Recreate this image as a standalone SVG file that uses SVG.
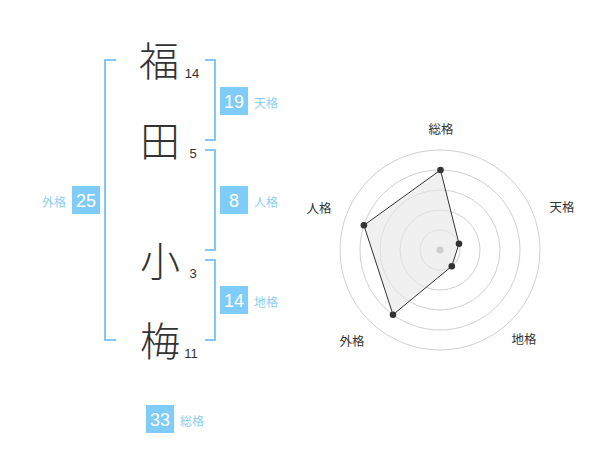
<svg xmlns="http://www.w3.org/2000/svg" width="600" height="470" viewBox="0 0 600 470">
<style>
.ch{font-family:"Noto Sans CJK JP","Noto Sans",sans-serif;font-size:40px;font-weight:300;fill:#333;text-anchor:middle}
.num{font-family:"Liberation Sans",Arial,sans-serif;font-size:13px;fill:#333;text-anchor:middle}
.br{fill:none;stroke:#80c9f2;stroke-width:2}
.box{fill:#80ccf8}
.bn{font-family:"Liberation Sans",Arial,sans-serif;font-size:18px;fill:#fff;text-anchor:middle}
.lb{font-family:"Noto Sans CJK JP",sans-serif;font-size:12px;fill:#8ccff5}
.rl{font-family:"Noto Sans CJK JP",sans-serif;font-size:12.5px;fill:#333;text-anchor:middle}
.ring{fill:none;stroke:#d0d0d0;stroke-width:1}
.pt{fill:#333}
</style>
<rect width="600" height="470" fill="#fff"/>
<g id="name">
<g id="c1"><text class="ch" x="159" y="76">福</text><text class="num" x="192" y="78">14</text></g>
<g id="c2"><text class="ch" x="160" y="156">田</text><text class="num" x="193" y="158">5</text></g>
<g id="c3"><text class="ch" x="160" y="276">小</text><text class="num" x="193" y="278">3</text></g>
<g id="c4"><text class="ch" x="160" y="356">梅</text><text class="num" x="191" y="358">11</text></g>
</g>
<g id="brackets">
<polyline class="br" points="116,60 105,60 105,340 116,340"/>
<polyline class="br" points="205,60 215,60 215,140 205,140"/>
<polyline class="br" points="205,150 215,150 215,250 205,250"/>
<polyline class="br" points="205,260 215,260 215,340 205,340"/>
</g>
<g id="tenkaku"><rect class="box" x="220" y="87" width="28" height="28"/><text class="bn" x="234" y="107.5">19</text><text class="lb" x="254" y="108">天格</text></g>
<g id="jinkaku"><rect class="box" x="220" y="186" width="28" height="28"/><text class="bn" x="234" y="206.5">8</text><text class="lb" x="254" y="207">人格</text></g>
<g id="chikaku"><rect class="box" x="220" y="286" width="28" height="28"/><text class="bn" x="234" y="306.5">14</text><text class="lb" x="254" y="307">地格</text></g>
<g id="gaikaku"><rect class="box" x="72" y="186" width="28" height="28"/><text class="bn" x="86" y="206.5">25</text><text class="lb" x="66" y="207" text-anchor="end">外格</text></g>
<g id="soukaku"><rect class="box" x="146" y="405" width="28" height="28"/><text class="bn" x="160" y="425.5">33</text><text class="lb" x="180" y="426">総格</text></g>
<g id="radar">
<circle class="ring" cx="440" cy="250" r="20"/>
<circle class="ring" cx="440" cy="250" r="40"/>
<circle class="ring" cx="440" cy="250" r="60"/>
<circle class="ring" cx="440" cy="250" r="80"/>
<circle class="ring" cx="440" cy="250" r="100"/>
<polygon points="440.5,170 459,243.8 451.8,266.2 393,314.7 363.9,225.3" fill="#e6e6e6" fill-opacity="0.6" stroke="#333" stroke-width="1"/>
<circle cx="440" cy="250" r="3.5" fill="#ccc"/>
<circle class="pt" cx="440.5" cy="170" r="3.3"/>
<circle class="pt" cx="459" cy="243.8" r="3.3"/>
<circle class="pt" cx="451.8" cy="266.2" r="3.3"/>
<circle class="pt" cx="393" cy="314.7" r="3.3"/>
<circle class="pt" cx="363.9" cy="225.3" r="3.3"/>
<text class="rl" x="441" y="134">総格</text>
<text class="rl" x="562" y="212">天格</text>
<text class="rl" x="524" y="344">地格</text>
<text class="rl" x="352" y="346">外格</text>
<text class="rl" x="319" y="213">人格</text>
</g>
</svg>
